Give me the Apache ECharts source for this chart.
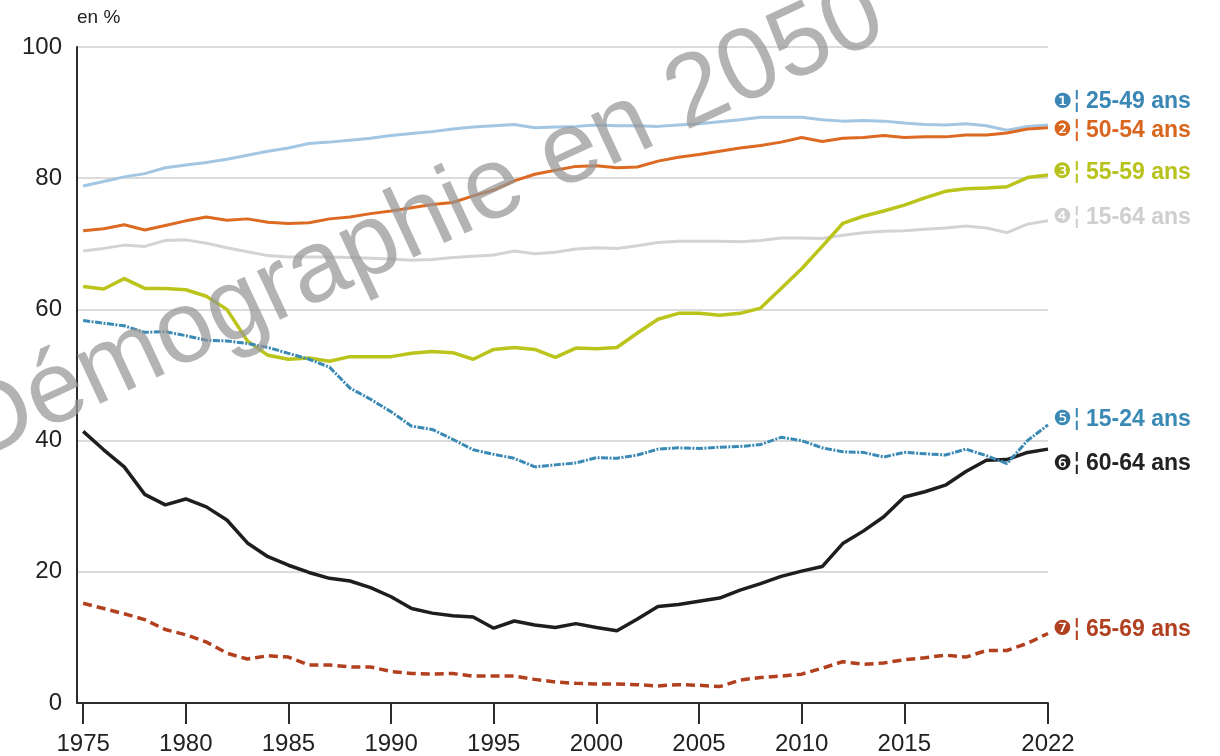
<!DOCTYPE html>
<html>
<head>
<meta charset="utf-8">
<title>Taux d'activité par âge</title>
<script src="https://cdn.jsdelivr.net/npm/echarts@6/dist/echarts.min.js"></script>
<style>
    html, body { margin: 0; padding: 0; background: #fff; }
    #chart { width: 1220px; height: 756px; }
</style>
</head>
<body>
<div id="chart"></div>
<script>
var YEARS = [1975, 1976, 1977, 1978, 1979, 1980, 1981, 1982, 1983, 1984, 1985, 1986,
    1987, 1988, 1989, 1990, 1991, 1992, 1993, 1994, 1995, 1996, 1997, 1998, 1999,
    2000, 2001, 2002, 2003, 2004, 2005, 2006, 2007, 2008, 2009, 2010, 2011, 2012,
    2013, 2014, 2015, 2016, 2017, 2018, 2019, 2020, 2021, 2022];

var X_TICKS = [1975, 1980, 1985, 1990, 1995, 2000, 2005, 2010, 2015, 2022];

var AGE_25_49 = [78.8, 79.5, 80.2, 80.7, 81.6, 82.0, 82.4, 82.9, 83.5, 84.1, 84.6, 85.3,
    85.5, 85.8, 86.1, 86.5, 86.8, 87.1, 87.5, 87.8, 88.0, 88.2, 87.7, 87.8, 87.9,
    88.1, 88.0, 88.0, 87.9, 88.1, 88.3, 88.6, 88.9, 89.3, 89.3, 89.3, 88.9, 88.7,
    88.8, 88.7, 88.4, 88.2, 88.1, 88.3, 88.0, 87.3, 87.9, 88.1];

var AGE_50_54 = [72.0, 72.3, 72.9, 72.1, 72.8, 73.5, 74.1, 73.6, 73.8, 73.3, 73.1, 73.2,
    73.8, 74.1, 74.6, 75.0, 75.5, 76.0, 76.3, 77.3, 78.2, 79.6, 80.6, 81.2, 81.8,
    81.9, 81.6, 81.7, 82.6, 83.2, 83.6, 84.1, 84.6, 85.0, 85.5, 86.2, 85.6, 86.1,
    86.2, 86.5, 86.2, 86.3, 86.3, 86.6, 86.6, 86.9, 87.5, 87.7];

var AGE_55_59 = [63.5, 63.1, 64.7, 63.2, 63.2, 63.0, 62.0, 60.0, 55.2, 53.0, 52.4, 52.6,
    52.1, 52.8, 52.8, 52.8, 53.3, 53.6, 53.4, 52.4, 53.9, 54.2, 53.9, 52.7, 54.1,
    54.0, 54.2, 56.4, 58.5, 59.4, 59.4, 59.1, 59.4, 60.2, 63.2, 66.2, 69.6, 73.1,
    74.2, 75.0, 75.9, 77.0, 78.0, 78.4, 78.5, 78.7, 80.1, 80.5];

var AGE_15_64 = [68.9, 69.3, 69.8, 69.6, 70.5, 70.6, 70.1, 69.4, 68.8, 68.2, 68.0, 68.0,
    68.0, 67.9, 67.8, 67.7, 67.5, 67.6, 67.9, 68.1, 68.3, 68.9, 68.5, 68.7, 69.2,
    69.4, 69.3, 69.7, 70.2, 70.4, 70.4, 70.4, 70.3, 70.5, 70.9, 70.9, 70.8, 71.3,
    71.7, 71.9, 72.0, 72.2, 72.4, 72.7, 72.4, 71.7, 73.0, 73.5];

var AGE_15_24 = [58.3, 57.9, 57.5, 56.5, 56.6, 56.0, 55.3, 55.2, 54.8, 54.2, 53.3, 52.4,
    51.2, 48.0, 46.3, 44.4, 42.2, 41.7, 40.2, 38.6, 37.9, 37.3, 36.0, 36.3, 36.6,
    37.4, 37.3, 37.8, 38.7, 38.9, 38.8, 39.0, 39.1, 39.4, 40.5, 40.0, 38.9, 38.3,
    38.2, 37.5, 38.2, 38.0, 37.8, 38.7, 37.7, 36.5, 40.0, 42.4];

var AGE_60_64 = [41.4, 38.6, 36.0, 31.8, 30.2, 31.1, 29.9, 27.9, 24.4, 22.3, 21.0, 19.9,
    19.0, 18.6, 17.6, 16.2, 14.4, 13.7, 13.3, 13.1, 11.4, 12.5, 11.9, 11.5, 12.1,
    11.5, 11.0, 12.8, 14.7, 15.0, 15.5, 16.0, 17.2, 18.2, 19.3, 20.1, 20.8, 24.3,
    26.2, 28.4, 31.4, 32.2, 33.2, 35.3, 37.0, 37.1, 38.2, 38.7];

var AGE_65_69 = [15.2, 14.4, 13.6, 12.7, 11.2, 10.4, 9.3, 7.6, 6.7, 7.2, 7.0, 5.8,
    5.8, 5.5, 5.5, 4.8, 4.5, 4.4, 4.5, 4.1, 4.1, 4.1, 3.6, 3.2, 3.0,
    2.9, 2.9, 2.8, 2.6, 2.8, 2.7, 2.5, 3.5, 3.9, 4.1, 4.4, 5.3, 6.3,
    5.9, 6.1, 6.6, 6.9, 7.3, 7.0, 8.0, 8.0, 9.1, 10.6];

var LABELS = ['25-49 ans', '50-54 ans', '55-59 ans', '15-64 ans', '15-24 ans', '60-64 ans', '65-69 ans'];
var MARKERS = ['\u2776', '\u2777', '\u2778', '\u2779', '\u277A', '\u277B', '\u277C'];

(function () {
    'use strict';

    var FONT = '"Liberation Sans", Arial, sans-serif';

    /** Pair every value with its year. */
    function pairs(values) {
        return YEARS.map(function (y, i) { return [y, values[i]]; });
    }

    /** One line series with its end label (circled number, bar, age group). */
    function line(idx, values, color, textColor, width, type, offset) {
        return {
            type: 'line',
            name: LABELS[idx],
            data: pairs(values),
            showSymbol: false,
            symbol: 'none',
            smooth: false,
            silent: true,
            lineStyle: { color: color, width: width, type: type, cap: 'butt' },
            endLabel: {
                show: true,
                distance: 5,
                offset: offset,
                formatter: '{c|' + MARKERS[idx] + '}{b|\u00a6}{t|' + LABELS[idx] + '}',
                rich: {
                    c: { fontFamily: '"DejaVu Sans"', fontSize: 21, color: textColor },
                    b: { fontFamily: '"DejaVu Sans"', fontSize: 24, color: textColor, padding: [0, 5, 0, 1] },
                    t: { fontFamily: FONT, fontSize: 23, fontWeight: 'bold', color: textColor }
                }
            }
        };
    }

    var chart = echarts.init(document.getElementById('chart'));

    chart.setOption({
        animation: false,
        backgroundColor: '#fff',
        grid: { left: 77, right: 172, top: 47, bottom: 53 },
        xAxis: {
            type: 'value',
            min: 1974.7,
            max: 2022,
            axisLine: { show: true, lineStyle: { color: '#2b2b2b', width: 2 } },
            axisTick: { show: true, customValues: X_TICKS, length: 21, lineStyle: { color: '#2b2b2b', width: 2 } },
            axisLabel: {
                customValues: X_TICKS, margin: 29, fontSize: 24, color: '#222', fontFamily: FONT,
                formatter: function (v) { return String(v); }
            },
            splitLine: { show: false }
        },
        yAxis: {
            type: 'value',
            min: 0,
            max: 100,
            interval: 20,
            axisLine: { show: true, lineStyle: { color: '#2b2b2b', width: 2 } },
            axisTick: { show: false },
            axisLabel: { margin: 15, fontSize: 24, color: '#222', fontFamily: FONT },
            splitLine: { lineStyle: { color: '#cfcfcf', width: 1.5 } }
        },
        graphic: [
            {
                type: 'text', left: 77, top: 8,
                style: { text: 'en %', font: '19px ' + FONT, fill: '#222' }
            },
            {
                // Watermark laid over the plot.
                type: 'text', x: 421, y: 223, rotation: 25 * Math.PI / 180, z: 100, silent: true,
                style: {
                    text: 'D\u00e9mographie en 2050', font: '102px ' + FONT,
                    fill: 'rgba(150,150,150,0.72)', align: 'center', verticalAlign: 'middle'
                }
            }
        ],
        series: [
            line(3, AGE_15_64, '#d3d3d3', '#cfcfcf', 3, 'solid', [0, -3]),
            line(0, AGE_25_49, '#a3c6e2', '#3a87b5', 3, 'solid', [0, -23]),
            line(1, AGE_50_54, '#dc6a22', '#d9661f', 3, 'solid', [0, 3]),
            line(2, AGE_55_59, '#bac41a', '#b8c21c', 3.5, 'solid', [0, -2]),
            line(6, AGE_65_69, '#b2401f', '#b0401f', 3.5, [9, 5], [0, -4]),
            line(5, AGE_60_64, '#1e1e1e', '#222222', 3.5, 'solid', [0, 15]),
            line(4, AGE_15_24, '#3a8ab5', '#3a8ab5', 3, [7, 1.5, 2, 1.5], [0, -5])
        ]
    });
})();
</script>
</body>
</html>
